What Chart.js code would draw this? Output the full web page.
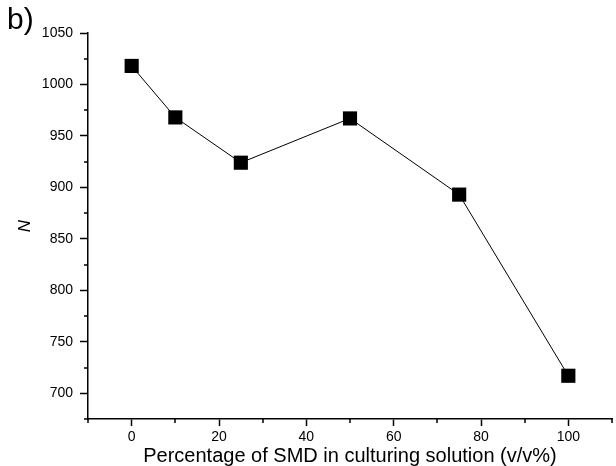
<!DOCTYPE html>
<html>
<head>
<meta charset="utf-8">
<script src="https://cdn.jsdelivr.net/npm/chart.js@4/dist/chart.umd.min.js"></script>
<style>
    body { margin: 0; background: #fff; }
    .wrap { position: relative; width: 616px; height: 466px; }
    .label { position: absolute; left: 7px; top: 2px; font: 30px "Liberation Sans", Arial, sans-serif; color: #000; }
</style>
</head>
<body>
<div class="wrap">
    <canvas id="chart" width="616" height="466"></canvas>
    <div class="label">b)</div>
</div>
<script>
const percentages = [0, 10, 25, 50, 75, 100];
const nValues = [1018, 968, 924, 967, 893, 717];

const xMajor = [0, 20, 40, 60, 80, 100];
const xMinor = [-10, 10, 30, 50, 70, 90, 110];
const yMajor = [700, 750, 800, 850, 900, 950, 1000, 1050];
const yMinor = [675, 725, 775, 825, 875, 925, 975, 1025];

const font = { family: "'Liberation Sans', Arial, sans-serif", size: 14 };

// short minor ticks, drawn through the scales
const minorTicks = {
    id: "minorTicks",
    afterDraw(chart) {
        const ctx = chart.ctx;
        const x = chart.scales.x;
        const y = chart.scales.y;
        ctx.save();
        ctx.strokeStyle = "#000";
        ctx.lineWidth = 1.5;
        ctx.beginPath();
        xMinor.forEach(v => {
            const px = Math.round(x.getPixelForValue(v));
            ctx.moveTo(px, x.top);
            ctx.lineTo(px, x.top + 4);
        });
        yMinor.forEach(v => {
            const py = Math.round(y.getPixelForValue(v));
            ctx.moveTo(y.right, py);
            ctx.lineTo(y.right - 4, py);
        });
        ctx.stroke();
        ctx.restore();
    }
};

new Chart(document.getElementById("chart"), {
    type: "line",
    data: {
        datasets: [{
            data: percentages.map((p, i) => ({ x: p, y: nValues[i] })),
            borderColor: "#000",
            borderWidth: 1,
            backgroundColor: "#000",
            pointStyle: "rect",
            pointRadius: 10,
            pointBorderWidth: 0,
            tension: 0
        }]
    },
    options: {
        responsive: false,
        animation: false,
        layout: { autoPadding: false, padding: { top: 33, right: 4, left: 0, bottom: 0 } },
        plugins: { legend: { display: false }, tooltip: { enabled: false } },
        scales: {
            x: {
                type: "linear",
                min: -10,
                max: 110,
                afterBuildTicks: s => { s.ticks = xMajor.map(v => ({ value: v })); },
                afterFit: s => { s.height = 47; s.paddingLeft = 0; s.paddingRight = 0; },
                border: { display: true, color: "#000", width: 1.5 },
                grid: { display: true, drawOnChartArea: false, tickLength: 7, tickColor: "#000", tickWidth: 1.5 },
                ticks: { color: "#000", font, padding: 3, maxRotation: 0, callback: v => String(v) },
                title: {
                    display: true,
                    text: "Percentage of SMD in culturing solution (v/v%)",
                    color: "#000",
                    font: { family: font.family, size: 20 },
                    padding: { top: 0, bottom: -2 }
                }
            },
            y: {
                min: 675,
                max: 1050,
                afterBuildTicks: s => { s.ticks = yMajor.map(v => ({ value: v })); },
                afterFit: s => { s.width = 88; s.paddingTop = 0; s.paddingBottom = 0; },
                border: { display: true, color: "#000", width: 1.5 },
                grid: { display: true, drawOnChartArea: false, tickLength: 8, tickColor: "#000", tickWidth: 1.5 },
                ticks: { color: "#000", font, padding: 7, callback: v => String(v) },
                title: {
                    display: true,
                    text: "N",
                    color: "#000",
                    font: { family: font.family, size: 17, style: "italic" },
                    padding: { top: 15, bottom: 0 }
                }
            }
        }
    },
    plugins: [minorTicks]
});
</script>
</body>
</html>
